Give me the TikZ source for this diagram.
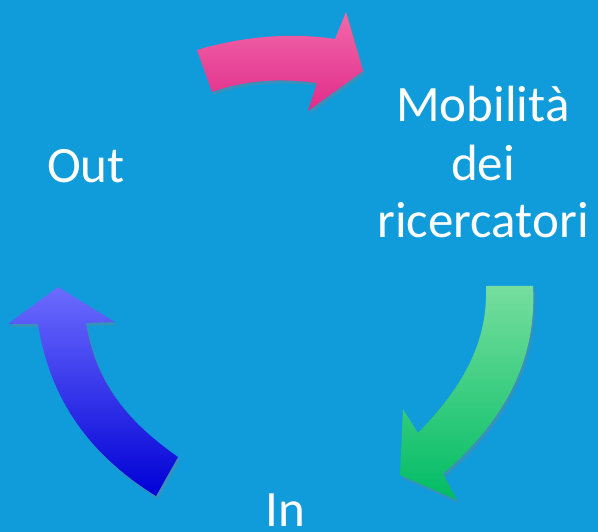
\documentclass[tikz,border=0pt]{standalone}
\usepackage{fontspec}
\setmainfont{Carlito}
\usetikzlibrary{shadows}
\definecolor{bgblue}{RGB}{16,155,218}
\definecolor{pinktop}{RGB}{242,104,170}
\definecolor{pinkbot}{RGB}{224,44,138}
\definecolor{greentop}{RGB}{118,222,158}
\definecolor{greenbot}{RGB}{0,188,100}
\definecolor{bluetop}{RGB}{108,108,255}
\definecolor{bluebot}{RGB}{0,0,214}
\begin{document}
\begin{tikzpicture}[x=1pt,y=-1pt,
    every node/.style={text=white,inner sep=0pt,font=\fontsize{51}{58}\selectfont},
    bigarrow/.style={drop shadow={shadow xshift=2pt,shadow yshift=-3pt,opacity=.35}}] %
    % page and background
    \useasboundingbox (0,0) rectangle (598,532);%
    \clip (0,0) rectangle (598,532);%
    \fill[bgblue] (0,0) rectangle (598,532);%

    % the three labels (base of a multi-line node is its last line)
    \node[anchor=base] (out) at (86,183) {Out};%
    \node[anchor=base,align=center] (mob) at (483,238) {Mobilità\\dei\\ricercatori};%
    \node[anchor=base] (in) at (285,526) {In};%

    % Out -> Mobilita (pink)
    \shade[bigarrow,top color=pinktop,bottom color=pinkbot]
      (197,50) .. controls (240,37) and (290,32) .. (335,39) -- (346,12)%
      -- (363,71) -- (308,111) -- (317,83)%
      .. controls (280,78) and (245,80) .. (212,92) -- cycle;%

    % Mobilita -> In (green)
    \shade[bigarrow,top color=greentop,bottom color=greenbot]
      (486,286) -- (533,286) .. controls (537,360) and (505,420) .. (443,474)%
      -- (457,500) -- (400,475) -- (403,409) -- (418,433)%
      .. controls (465,385) and (488,340) .. (486,286) -- cycle;%

    % In -> Out (blue)
    \shade[bigarrow,top color=bluetop,bottom color=bluebot]
      (58,287) -- (115,322) -- (86,323)%
      .. controls (95,380) and (125,420) .. (178,457) -- (156,496)%
      .. controls (90,455) and (50,400) .. (38,324) -- (8,324) -- cycle;%
  \end{tikzpicture}
\end{document}
